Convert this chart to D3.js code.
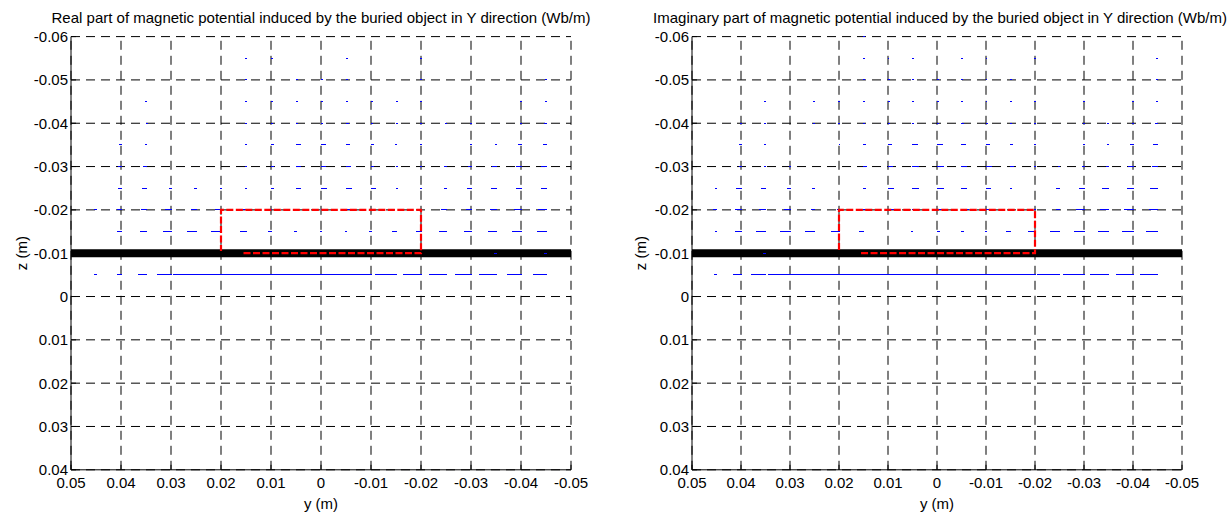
<!DOCTYPE html>
<html>
<head>
<meta charset="utf-8">
<script src="https://cdn.jsdelivr.net/npm/d3@7"></script>
<style>
  html, body { margin: 0; padding: 0; background: #fff; }
  svg { display: block; }
  text { font-family: "Liberation Sans", Arial, Helvetica, sans-serif; fill: #000; }
</style>
</head>
<body>
<svg id="chart" width="1229" height="515"></svg>
<script>
// ---------------- data ----------------
const xTicks = [0.05, 0.04, 0.03, 0.02, 0.01, 0, -0.01, -0.02, -0.03, -0.04, -0.05];
const zTicks = [-0.06, -0.05, -0.04, -0.03, -0.02, -0.01, 0, 0.01, 0.02, 0.03, 0.04];

const titles = [
  "Real part of magnetic potential induced by the buried object in Y direction (Wb/m)",
  "Imaginary part of magnetic potential induced by the buried object in Y direction (Wb/m)"
];
const xLabel = "y (m)";
const zLabel = "z (m)";

// quiver grid (arrow origins)
const yCols = [0.045, 0.04, 0.035, 0.03, 0.025, 0.02, 0.015, 0.01, 0.005, 0,
               -0.005, -0.01, -0.015, -0.02, -0.025, -0.03, -0.035, -0.04, -0.045];
const zRows = [-0.06, -0.055, -0.05, -0.045, -0.04, -0.035, -0.03, -0.025, -0.02, -0.015, -0.01, -0.005];

// horizontal (Y) arrow components, real part, one row per zRows entry
const realU = [
  [0,0,0,0,0,0,0,0,0,0,0,0,0,0,0,0,0,0,0],
  [0,0,0,0,0,0,.0002,-.0002,0,0,-.0002,0,0,.0002,0,0,0,0,0],
  [0,0,0,0,0,0,.0002,0,-.0002,-.0002,-.0002,0,0,.0002,0,0,0,0,.0002],
  [0,0,.0002,0,0,0,.0002,-.0002,-.0002,-.0002,-.0003,-.0002,-.0002,.0002,0,0,0,.0002,.0002],
  [0,0,-.0002,0,0,0,.0002,-.0003,-.0003,-.0003,-.0004,-.0003,-.0003,.0002,.0002,.0002,0,.0002,.0003],
  [0,.0003,.0002,0,0,0,.0002,-.0004,-.0008,-.0008,-.0006,-.0004,.0002,.0002,0,.0002,.0002,.0005,.0005],
  [0,.0005,.0006,0,0,0,.0002,-.0004,-.0008,-.0009,-.0008,-.0005,-.0003,.0002,.0003,.0005,.0008,.0009,.0009],
  [0,.0005,.0008,.0004,.0004,.0002,.0002,-.0004,-.0008,-.0011,-.001,-.0008,-.0002,.0002,.0004,.0008,.001,.001,.001],
  [.0004,.0008,.001,.0011,.001,.0012,.0006,.0002,-.0004,-.0008,-.0009,-.0006,0,0,.0009,.0009,.0012,.0013,.0015],
  [0,.0007,.0012,.0015,.0017,.0019,.0012,.0005,.0003,.0002,.0002,.0003,.0007,.001,.0013,.0013,.0015,.0017,.0017],
  [0,0,0,0,0,0,0,0,0,0,0,0,0,0,0,0,.0004,0,.0004],
  [.0004,.0008,.0016,.0028,.0046,.005,.005,.005,.005,.005,.005,.0048,.0042,.0036,.0034,.0032,.0034,.0028,.0026]
];

// horizontal (Y) arrow components, imaginary part
const imagU = [
  [0,0,0,0,0,0,-.0002,0,0,0,0,0,0,0,0,0,0,0,0],
  [0,0,0,0,0,0,-.0002,-.0002,-.0002,0,-.0002,-.0002,0,.0002,0,0,0,0,.0002],
  [0,0,0,0,0,0,-.0002,-.0003,-.0002,-.0003,-.0003,-.0002,-.0002,0,0,0,0,0,.0002],
  [0,0,.0002,0,.0002,.0002,-.0002,-.0003,-.0002,-.0003,-.0003,-.0002,-.0002,.0002,0,.0002,0,.0002,.0002],
  [0,.0002,.0002,0,.0002,.0002,-.0002,-.0003,-.0003,-.0004,-.0004,-.0003,-.0002,.0002,0,.0002,.0002,.0002,.0004],
  [0,.0003,.0002,0,0,-.0002,-.0005,-.0008,-.001,-.0011,-.0009,-.0007,-.0004,.0002,0,.0002,.0002,.0005,.0008],
  [0,.0004,.0003,.0002,0,0,-.0007,-.001,-.0012,-.0014,-.0011,-.0011,-.0006,.0002,.0002,.0003,.0005,.0009,.0011],
  [.0002,.0009,.0008,.0006,.0004,0,-.0005,-.0011,-.0012,-.0014,-.0011,-.001,-.0002,0,.0006,.001,.0012,.0012,.0014],
  [.0006,.0012,.0012,.0012,.0006,.0003,-.0006,-.0012,-.0015,-.0016,-.0014,-.001,-.0003,.0002,.0006,.0015,.0016,.0018,.0016],
  [.0002,.0012,.0018,.002,.0018,.0016,.0008,0,.0002,-.0005,-.0005,.0002,.0009,.0014,.0018,.002,.0021,.0022,.0023],
  [0,0,.0004,0,0,0,0,0,0,0,0,0,0,0,0,0,0,0,0],
  [.0005,.0015,.0029,.0043,.0052,.0056,.0058,.0058,.0058,.0058,.0057,.0055,.0052,.005,.0045,.0041,.0037,.0034,.0034]
];

// conducting layer (thick black line) and buried object outline (red dashed)
const layerZ = -0.01;
const layerY = [0.05, -0.05];
const objectY = [0.0155, -0.02, -0.02, 0.02, 0.02];
const objectZ = [-0.01, -0.01, -0.02, -0.02, -0.0105];

// ---------------- drawing ----------------
const svg = d3.select("#chart");
const plotTop = 36.6, plotBottom = 469.8;
const FS = 15;

const panels = [
  { title: titles[0], U: realU, x0: 71,  x1: 571,  zLabelX: 22,  titleX: 321 },
  { title: titles[1], U: imagU, x0: 692, x1: 1182, zLabelX: 641, titleX: 940 }
];

const fmt = d => Math.abs(d) < 1e-12 ? "0" : d.toFixed(2);

panels.forEach(p => {
  const x = d3.scaleLinear().domain([0.05, -0.05]).range([p.x0, p.x1]);
  const z = d3.scaleLinear().domain([-0.06, 0.04]).range([plotTop, plotBottom]);
  const g = svg.append("g");

  // grid
  const grid = g.append("g").attr("stroke", "#000").attr("stroke-width", 1)
    .attr("stroke-dasharray", "9,6").attr("fill", "none");
  grid.selectAll("line.v").data(xTicks).join("line").attr("class", "v")
    .attr("x1", d => x(d)).attr("x2", d => x(d))
    .attr("y1", plotBottom).attr("y2", plotTop);
  grid.selectAll("line.h").data(zTicks).join("line").attr("class", "h")
    .attr("x1", p.x0).attr("x2", p.x1)
    .attr("y1", d => z(d)).attr("y2", d => z(d));

  // conducting layer
  g.append("line")
    .attr("x1", x(layerY[0])).attr("x2", x(layerY[1]))
    .attr("y1", z(layerZ)).attr("y2", z(layerZ))
    .attr("stroke", "#000").attr("stroke-width", 8);

  // quiver arrows
  const arrows = [];
  zRows.forEach((zz, i) => {
    yCols.forEach((yy, j) => {
      const u = p.U[i][j];
      if (u !== 0) arrows.push({ y: yy, z: zz, u: u });
    });
  });
  g.append("g").attr("stroke", "#0000ff").attr("stroke-width", 1)
    .attr("shape-rendering", "crispEdges").attr("stroke-linecap", "square")
    .selectAll("line").data(arrows).join("line")
    .attr("x1", d => x(d.y)).attr("x2", d => x(d.y + d.u))
    .attr("y1", d => z(d.z)).attr("y2", d => z(d.z));

  // buried object outline
  const pts = objectY.map((v, i) => [x(v), z(objectZ[i])]);
  g.append("path")
    .attr("d", d3.line()(pts))
    .attr("fill", "none").attr("stroke", "#ff0000").attr("stroke-width", 2.2)
    .attr("stroke-dasharray", "7,2.5");

  // axes (left + bottom solid, ticks inward)
  const ax = g.append("g").attr("stroke", "#000").attr("stroke-width", 1).attr("fill", "none");
  ax.append("line").attr("x1", p.x0).attr("x2", p.x0).attr("y1", plotTop).attr("y2", plotBottom);
  ax.append("line").attr("x1", p.x0).attr("x2", p.x1).attr("y1", plotBottom).attr("y2", plotBottom);
  ax.selectAll("line.xt").data(xTicks).join("line").attr("class", "xt")
    .attr("x1", d => x(d)).attr("x2", d => x(d)).attr("y1", plotBottom).attr("y2", plotBottom - 5);
  ax.selectAll("line.zt").data(zTicks).join("line").attr("class", "zt")
    .attr("x1", p.x0).attr("x2", p.x0 + 5).attr("y1", d => z(d)).attr("y2", d => z(d));

  // tick labels
  g.selectAll("text.xl").data(xTicks).join("text").attr("class", "xl")
    .attr("x", d => x(d)).attr("y", plotBottom + 18.5)
    .attr("text-anchor", "middle").attr("font-size", FS).text(fmt);
  g.selectAll("text.zl").data(zTicks).join("text").attr("class", "zl")
    .attr("x", p.x0 - 3).attr("y", d => z(d)).attr("dy", "0.36em")
    .attr("text-anchor", "end").attr("font-size", FS).text(fmt);

  // axis labels & title
  g.append("text").attr("x", (p.x0 + p.x1) / 2).attr("y", 509)
    .attr("text-anchor", "middle").attr("font-size", FS).text(xLabel);
  g.append("text")
    .attr("transform", `translate(${p.zLabelX},${(plotTop + plotBottom) / 2}) rotate(-90)`)
    .attr("dy", "0.36em")
    .attr("text-anchor", "middle").attr("font-size", FS).text(zLabel);
  g.append("text").attr("x", p.titleX).attr("y", 22.5)
    .attr("text-anchor", "middle").attr("font-size", FS).text(p.title);
});
</script>
</body>
</html>
